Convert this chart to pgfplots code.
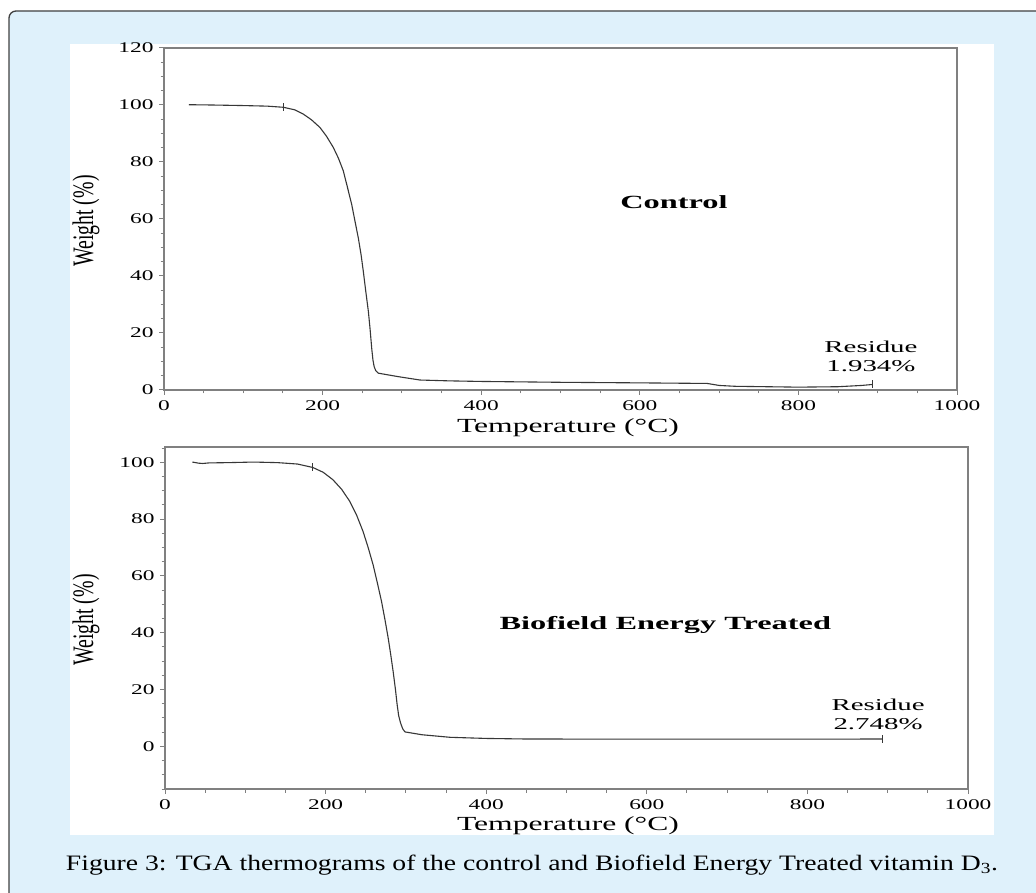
\documentclass[border=0pt]{standalone}
\usepackage{pgfplots}
\pgfplotsset{compat=1.18}
\usepackage{fontspec}
\setmainfont{Liberation Serif}
\newfontfamily\wide[FakeStretch=1.58]{Liberation Serif}
\newfontfamily\wider[FakeStretch=1.74]{Liberation Serif}
\definecolor{bgblue}{RGB}{223,241,251}
\definecolor{axgray}{RGB}{128,128,128}
\definecolor{curve}{RGB}{55,55,55}

\pgfplotstableread{
T W
31.5 100.1
60 100.0
100 99.8
130 99.6
150.5 99.2
165 98.3
175.7 96.8
186 94.8
196.7 92.1
205 89.0
213.5 85.1
220 81.3
226.1 76.9
231 71.5
236.7 65.1
241 59.0
245 53.4
248.5 47.5
251.3 41.7
254.5 34.5
257.7 27.6
260 21
261.9 14.7
263.5 10.5
265 8.2
267 6.8
270.3 5.9
295 4.7
322.8 3.5
360 3.2
400 3.0
500 2.7
600 2.5
685 2.3
700 1.6
720 1.3
800 1.0
850 1.15
880 1.6
893 1.93
}\control

\pgfplotstableread{
T W
34 100.1
42 99.7
47 99.6
55 99.8
80 99.9
110 100.1
140 99.9
165 99.4
184 98.2
197 96.5
209 93.9
220 90.5
230 86.3
238.5 81.5
246.6 75.7
253 70
259.1 64
264.5 57.5
269.6 51.1
274 44.5
277.9 38.2
281 32.5
284.1 26.4
287 20
289.1 14.7
291 10.8
293.4 8.2
296 6.2
298.8 5.1
320 4.1
355 3.2
400 2.8
450 2.6
600 2.55
800 2.55
894 2.6
}\treated

\pgfplotsset{
  tgastyle/.style={
    scale only axis,
    anchor=south west,
    xmin=0, xmax=1000,
    xtick={0,200,...,1000},
    minor xtick={0,50,...,1000},
    tick align=outside,
    xtick pos=bottom, ytick pos=left,
    major tick length=5pt, minor tick length=3.5pt,
    axis line style={axgray, line width=1.3pt},
    every tick/.style={axgray, line width=1pt},
    tick label style={font=\wide\fontsize{14.8}{16}\selectfont, text=black},
    /pgf/number format/assume math mode=true,
    /pgf/number format/1000 sep={},
    xticklabel style={yshift=-2pt},
    yticklabel style={xshift=-2pt},
    clip=false,
  }
}

\begin{document}
\begin{tikzpicture}
\path[use as bounding box] (0pt,0pt) rectangle (1036pt,892pt);
\begin{scope}
\clip (0pt,0pt) rectangle (1036pt,892pt);
\draw[fill=bgblue, draw=black!75, line width=1.3pt, rounded corners=7pt] (9pt,881pt) rectangle (1060pt,-30pt);
\end{scope}
\fill[white] (70pt,848pt) rectangle (994pt,57pt);

% top: control
\begin{axis}[tgastyle, at={(164pt,502pt)}, width=793pt, height=342pt,
  ymin=0, ymax=120, ytick={0,20,...,120}, minor ytick={0,5,...,120}]
\addplot[curve, line width=1.1pt] table[x=T,y=W]{\control};
\addplot[curve, only marks, mark=|, mark size=4pt, mark options={line width=0.9pt}] coordinates {(150.5,99.2) (893,1.93)};
\node[font=\wider\bfseries\fontsize{18.6}{20}\selectfont, anchor=base] at (axis cs:643,63.7) {Control};
\node[font=\wider\fontsize{16.6}{18}\selectfont, anchor=base] at (axis cs:891.5,13.1) {Residue};
\node[font=\wider\fontsize{16.6}{18}\selectfont, anchor=base] at (axis cs:891.5,6.4) {1.934\%};
\end{axis}

% bottom: treated
\begin{axis}[tgastyle, at={(165pt,103pt)}, width=803pt, height=342pt,
  ymin=-15, ymax=105.4, ytick={0,20,...,100}, minor ytick={-15,-10,...,105}]
\addplot[curve, line width=1.1pt] table[x=T,y=W]{\treated};
\addplot[curve, only marks, mark=|, mark size=4pt, mark options={line width=0.9pt}] coordinates {(184,98.2) (894,2.6)};
\node[font=\wider\bfseries\fontsize{18.6}{20}\selectfont, anchor=base] at (axis cs:623,41.1) {Biofield Energy Treated};
\node[font=\wider\fontsize{16.6}{18}\selectfont, anchor=base] at (axis cs:888,12.7) {Residue};
\node[font=\wider\fontsize{16.6}{18}\selectfont, anchor=base] at (axis cs:888,5.9) {2.748\%};
\end{axis}

% axis titles
\node[font=\wide\fontsize{20}{22}\selectfont, anchor=base] at (568pt,459pt) {Temperature (°C)};
\node[font=\wide\fontsize{20}{22}\selectfont, anchor=base] at (568pt,62pt) {Temperature (°C)};
\node[font=\fontsize{19.8}{21}\selectfont, rotate=90] at (86pt,671pt) {\scalebox{1}[1.5]{Weight (\%)}};
\node[font=\fontsize{19.8}{21}\selectfont, rotate=90] at (86pt,272pt) {\scalebox{1}[1.5]{Weight (\%)}};

% caption
\node[font=\fontsize{22}{24}\selectfont, anchor=base, inner sep=0pt] at (532pt,22pt) {\resizebox{932pt}{\height}{Figure 3: TGA thermograms of the control and Biofield Energy Treated vitamin D\textsubscript{3}.}};
\end{tikzpicture}
\end{document}
